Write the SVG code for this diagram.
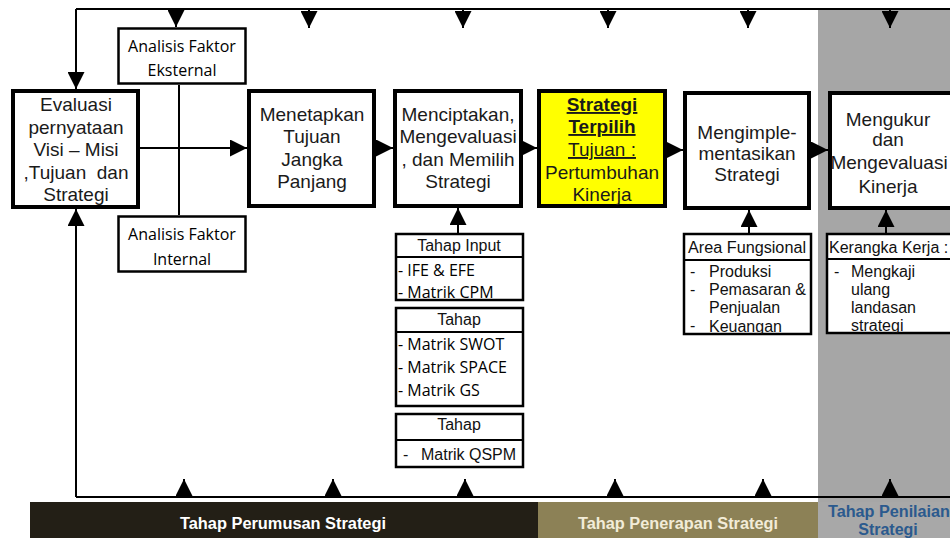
<svg xmlns="http://www.w3.org/2000/svg" width="950" height="538" viewBox="0 0 950 538">
<defs>
<marker id="ah" viewBox="0 0 10 10" refX="10" refY="5" markerUnits="userSpaceOnUse" markerWidth="18" markerHeight="17" orient="auto"><path d="M0,0 L10,5 L0,10 z" fill="#000"/></marker>
<clipPath id="clipArea"><rect x="685" y="261" width="125" height="73"/></clipPath>
<clipPath id="clipKer"><rect x="828" y="261" width="122" height="72"/></clipPath>
<clipPath id="clipUkur"><rect x="830" y="93" width="117" height="115"/></clipPath>
</defs>
<style>
.main{fill:#fff;stroke:#000;stroke-width:4}
.sub{fill:#fff;stroke:#000;stroke-width:2.5}
.sep{stroke:#000;stroke-width:2;fill:none}
.t{font-family:'Liberation Sans',Arial,sans-serif;font-size:19px;fill:#1a1a1a;text-anchor:middle}
.c{font-family:'Open Sans','Noto Sans',sans-serif;font-size:16px;fill:#000}
.ch{font-family:'Open Sans','Noto Sans',sans-serif;font-size:16px;fill:#000;text-anchor:middle}
.s{font-family:'Liberation Sans',Arial,sans-serif;font-size:16px;fill:#111}
.sh{font-family:'Liberation Sans',Arial,sans-serif;font-size:16px;fill:#111;text-anchor:middle}
.conn{stroke:#000;stroke-width:2;fill:none}
.band{font-family:'Liberation Sans Narrow','Liberation Sans',Arial,sans-serif;font-weight:bold;font-size:16px;text-anchor:middle}
</style>
<rect x="0" y="0" width="950" height="538" fill="#fff"/>
<g id="phases">
<rect x="818" y="10" width="132" height="492" fill="#a6a6a6"/>
<rect x="30" y="502" width="508" height="36" fill="#231f16"/>
<rect x="538" y="502" width="280" height="36" fill="#8c8156"/>
<rect x="818" y="502" width="132" height="36" fill="#a8a8a8"/>
<text class="band" x="283" y="529" fill="#fff" textLength="206" lengthAdjust="spacingAndGlyphs">Tahap Perumusan Strategi</text>
<text class="band" x="678" y="529" fill="#f2ecd8" textLength="200" lengthAdjust="spacingAndGlyphs">Tahap Penerapan Strategi</text>
<text class="band" x="889" y="517" fill="#2b5a8e" textLength="122" lengthAdjust="spacingAndGlyphs">Tahap Penilaian</text>
<text class="band" x="888" y="535" fill="#2b5a8e">Strategi</text>
</g>
<g id="connectors">
<path class="conn" d="M76,9 L950,9"/>
<path class="conn" d="M76,497 L950,497"/>
<path class="conn" d="M76,9 L76,89" marker-end="url(#ah)"/>
<path class="conn" d="M76,497 L76,209" marker-end="url(#ah)"/>
<path class="conn" d="M176,9 L176,27" marker-end="url(#ah)"/>
<path class="conn" d="M309,9 L309,28" marker-end="url(#ah)"/>
<path class="conn" d="M463,9 L463,28" marker-end="url(#ah)"/>
<path class="conn" d="M608,9 L608,28" marker-end="url(#ah)"/>
<path class="conn" d="M748,9 L748,28" marker-end="url(#ah)"/>
<path class="conn" d="M890,9 L890,28" marker-end="url(#ah)"/>
<path class="conn" d="M184,497 L184,479" marker-end="url(#ah)"/>
<path class="conn" d="M333,497 L333,479" marker-end="url(#ah)"/>
<path class="conn" d="M465,497 L465,479" marker-end="url(#ah)"/>
<path class="conn" d="M615,497 L615,479" marker-end="url(#ah)"/>
<path class="conn" d="M763,497 L763,479" marker-end="url(#ah)"/>
<path class="conn" d="M890,497 L890,479" marker-end="url(#ah)"/>
<path class="conn" d="M179,85 L179,215"/>
<path class="conn" d="M140,148 L247,148" marker-end="url(#ah)"/>
<path class="conn" d="M376,148 L393,148" marker-end="url(#ah)"/>
<path class="conn" d="M523,148 L537,148" marker-end="url(#ah)"/>
<path class="conn" d="M667,150 L683,150" marker-end="url(#ah)"/>
<path class="conn" d="M811,150 L828,150" marker-end="url(#ah)"/>
<path class="conn" d="M458,233 L458,208" marker-end="url(#ah)"/>
<path class="conn" d="M749,233 L749,210" marker-end="url(#ah)"/>
<path class="conn" d="M886,233 L886,210" marker-end="url(#ah)"/>
</g>
<g id="evaluasi">
<rect class="main" x="13" y="91" width="125" height="116"/>
<text class="t" x="76" y="111">Evaluasi</text>
<text class="t" x="76" y="134">pernyataan</text>
<text class="t" x="76" y="156">Visi – Misi</text>
<text class="t" x="76" y="179" style="white-space:pre">,Tujuan  dan</text>
<text class="t" x="76" y="201">Strategi</text>
</g>
<g id="eksternal">
<rect class="sub" x="118.5" y="28.5" width="127" height="55" stroke-width="3"/>
<text class="ch" x="182" y="52">Analisis Faktor</text>
<text class="ch" x="182" y="76">Eksternal</text>
</g>
<g id="internal">
<rect class="sub" x="118.5" y="216.5" width="127" height="55" stroke-width="3"/>
<text class="ch" x="182" y="240">Analisis Faktor</text>
<text class="ch" x="182" y="265">Internal</text>
</g>
<g id="menetapkan">
<rect class="main" x="249" y="91" width="125" height="115"/>
<text class="t" x="312" y="121">Menetapkan</text>
<text class="t" x="312" y="143">Tujuan</text>
<text class="t" x="312" y="166">Jangka</text>
<text class="t" x="312" y="188">Panjang</text>
</g>
<g id="menciptakan">
<rect class="main" x="395" y="91" width="126" height="115"/>
<text class="t" x="458" y="121">Menciptakan,</text>
<text class="t" x="458" y="143">Mengevaluasi</text>
<text class="t" x="458" y="166">, dan Memilih</text>
<text class="t" x="458" y="188">Strategi</text>
</g>
<g id="strategi-terpilih">
<rect class="main" x="539" y="91" width="126" height="115" style="fill:#ffff00"/>
<text class="t" x="602" y="111" font-weight="bold" text-decoration="underline">Strategi</text>
<text class="t" x="602" y="133" font-weight="bold" text-decoration="underline">Terpilih</text>
<text class="t" x="602" y="156" text-decoration="underline">Tujuan :</text>
<text class="t" x="602" y="179">Pertumbuhan</text>
<text class="t" x="602" y="201">Kinerja</text>
</g>
<g id="mengimplementasikan">
<rect class="main" x="685" y="93" width="124" height="115"/>
<text class="t" x="747" y="139">Mengimple-</text>
<text class="t" x="747" y="160">mentasikan</text>
<text class="t" x="747" y="181">Strategi</text>
</g>
<g id="mengukur">
<rect class="main" x="830" y="93" width="130" height="115"/>
<g clip-path="url(#clipUkur)">
<text class="t" x="888" y="126">Mengukur</text>
<text class="t" x="888" y="146">dan</text>
<text class="t" x="889" y="169">Mengevaluasi</text>
<text class="t" x="888" y="193">Kinerja</text>
</g>
</g>
<g id="tahap-input">
<rect class="sub" x="396" y="234" width="127" height="66"/>
<path class="sep" d="M396,257 L523,257"/>
<text class="sh" x="459" y="251">Tahap Input</text>
<text class="c" x="398" y="276">- IFE &amp; EFE</text>
<text class="c" x="398" y="298">- Matrik CPM</text>
</g>
<g id="tahap-pencocokan">
<rect class="sub" x="396" y="308" width="127" height="98"/>
<path class="sep" d="M396,332 L523,332"/>
<text class="sh" x="459" y="325">Tahap</text>
<text class="c" x="398" y="350">- Matrik SWOT</text>
<text class="c" x="398" y="373">- Matrik SPACE</text>
<text class="c" x="398" y="396">- Matrik GS</text>
</g>
<g id="tahap-keputusan">
<rect class="sub" x="396" y="414" width="127" height="53"/>
<path class="sep" d="M396,440 L523,440"/>
<text class="sh" x="459" y="430">Tahap</text>
<text class="s" x="403" y="460">-</text>
<text class="s" x="421" y="460">Matrik QSPM</text>
</g>
<g id="area-fungsional">
<rect class="sub" x="684" y="234" width="127" height="100"/>
<path class="sep" d="M684,260 L811,260"/>
<text class="sh" x="747" y="253" textLength="118" lengthAdjust="spacingAndGlyphs">Area Fungsional</text>
<g clip-path="url(#clipArea)">
<text class="s" x="690" y="277">-</text>
<text class="s" x="709" y="277">Produksi</text>
<text class="s" x="690" y="295">-</text>
<text class="s" x="709" y="295">Pemasaran &amp;</text>
<text class="s" x="709" y="313">Penjualan</text>
<text class="s" x="690" y="331">-</text>
<text class="s" x="709" y="332">Keuangan</text>
</g>
</g>
<g id="kerangka-kerja">
<rect class="sub" x="827" y="234" width="130" height="99"/>
<path class="sep" d="M827,259 L957,259"/>
<text class="s" x="829" y="253">Kerangka Kerja :</text>
<g clip-path="url(#clipKer)">
<text class="s" x="834" y="277">-</text>
<text class="s" x="851" y="277">Mengkaji</text>
<text class="s" x="851" y="295">ulang</text>
<text class="s" x="851" y="313">landasan</text>
<text class="s" x="851" y="331">strategi</text>
</g>
</g>
</svg>
